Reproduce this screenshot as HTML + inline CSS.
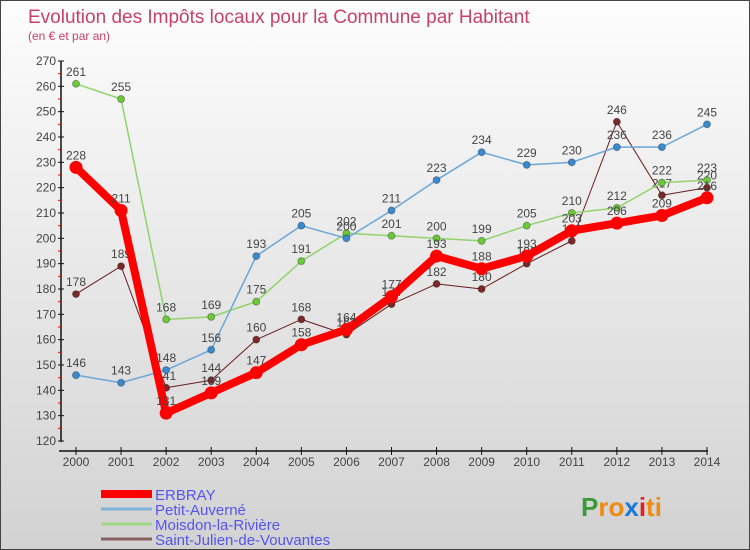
<!DOCTYPE html>
<html><head><meta charset="utf-8"><style>
body{margin:0}
#c{width:750px;height:550px;position:relative;background:linear-gradient(#fdfdfd,#d2d2d2);box-sizing:border-box;border:1px solid #444;overflow:hidden;font-family:"Liberation Sans",sans-serif}
</style></head><body>
<div id="c">
<svg id="s" width="750" height="550"></svg>
</div>
<script>
const years=["2000","2001","2002","2003","2004","2005","2006","2007","2008","2009","2010","2011","2012","2013","2014"];
const erbray=[228,211,131,139,147,158,164,177,193,188,193,203,206,209,216];
const petit=[146,143,148,156,193,205,200,211,223,234,229,230,236,236,245];
const moisdon=[261,255,168,169,175,191,202,201,200,199,205,210,212,222,223];
const julien=[178,189,141,144,160,168,162,174,182,180,190,199,246,217,220];
const yTicks=[120,130,140,150,160,170,180,190,200,210,220,230,240,250,260,270];
const names=["ERBRAY","Petit-Auverné","Moisdon-la-Rivière","Saint-Julien-de-Vouvantes"];
const NS="http://www.w3.org/2000/svg";
const s=document.getElementById('s');
function X(i){return 75+i*(706-75)/14;}
function Y(v){return 440-(v-120)*(380/150);}
function el(t,a,txt){const e=document.createElementNS(NS,t);for(const k in a)e.setAttribute(k,a[k]);if(txt!==undefined)e.textContent=txt;s.appendChild(e);return e;}
let t=el('text',{x:27,y:22,fill:'#c8416a','font-size':19},'Evolution des Impôts locaux pour la Commune par Habitant');

t=el('text',{x:27,y:39,fill:'#c8416a','font-size':12},'(en € et par an)');

let a=el('line',{x1:60,y1:60,x2:60,y2:441,stroke:'#111','stroke-width':1.5});

a=el('line',{x1:58,y1:450,x2:707,y2:450,stroke:'#111','stroke-width':1.5});

yTicks.forEach((v,i)=>{
 el('line',{x1:57,y1:Y(v),x2:63,y2:Y(v),stroke:'#111'});
 if(i<yTicks.length-1)el('line',{x1:57,y1:Y(v+5),x2:60,y2:Y(v+5),stroke:'#e00'});
 const l=el('text',{x:55,y:Y(v)+4,'text-anchor':'end','font-size':12,fill:'#444'},v);
 
});
years.forEach((y,i)=>{
 el('line',{x1:X(i),y1:446,x2:X(i),y2:454,stroke:'#111'});
 const l=el('text',{x:X(i),y:465,'text-anchor':'middle','font-size':12,fill:'#444'},y);
 
});
const series=[[julien,'#6b1c1c','#7a2828',1,3.5,'saint-julien'],[moisdon,'#8fd46a','#6cc93a',1.5,3.5,'moisdon'],[petit,'#6aa6d6','#3b8ad0',1.5,3.5,'petit-auverne'],[erbray,'#f00','#f00',8,6.5,'erbray']];
series.forEach(([d,lc,pc,w,r,n])=>{
 const p=el('polyline',{points:d.map((v,i)=>X(i)+','+Y(v)).join(' '),fill:'none',stroke:lc,'stroke-width':w,'stroke-linejoin':'round'});
 
 d.forEach((v,i)=>{
  const c=el('circle',{cx:X(i),cy:Y(v),r:r,fill:pc,stroke:n=='erbray'?'none':'rgba(0,0,0,0.3)'});
  
  const l=el('text',{x:X(i),y:Y(v)-8,'text-anchor':'middle','font-size':12,fill:'#444'},v);
  
 });
});
const lc=['#f00','#7fb0d6','#9fd88a','#8a6060'],lw=[8,3,3,3];
names.forEach((n,i)=>{
 const y=493+i*15;
 el('line',{x1:100,y1:y,x2:151,y2:y,stroke:lc[i],'stroke-width':lw[i]});
 const l=el('text',{x:154,y:y+6,'font-size':15,fill:'#5555ee'},n);
 
});
const g=el('text',{x:580,y:515,'font-size':26,'font-weight':'bold'});

[['P','#3b9a3b'],['ro','#f08a10'],['x','#1b7ad8'],['i','#e02020'],['ti','#f08a10']].forEach(([c,f])=>{const sp=document.createElementNS(NS,'tspan');sp.setAttribute('fill',f);sp.textContent=c;g.appendChild(sp);});
</script>
</body></html>
